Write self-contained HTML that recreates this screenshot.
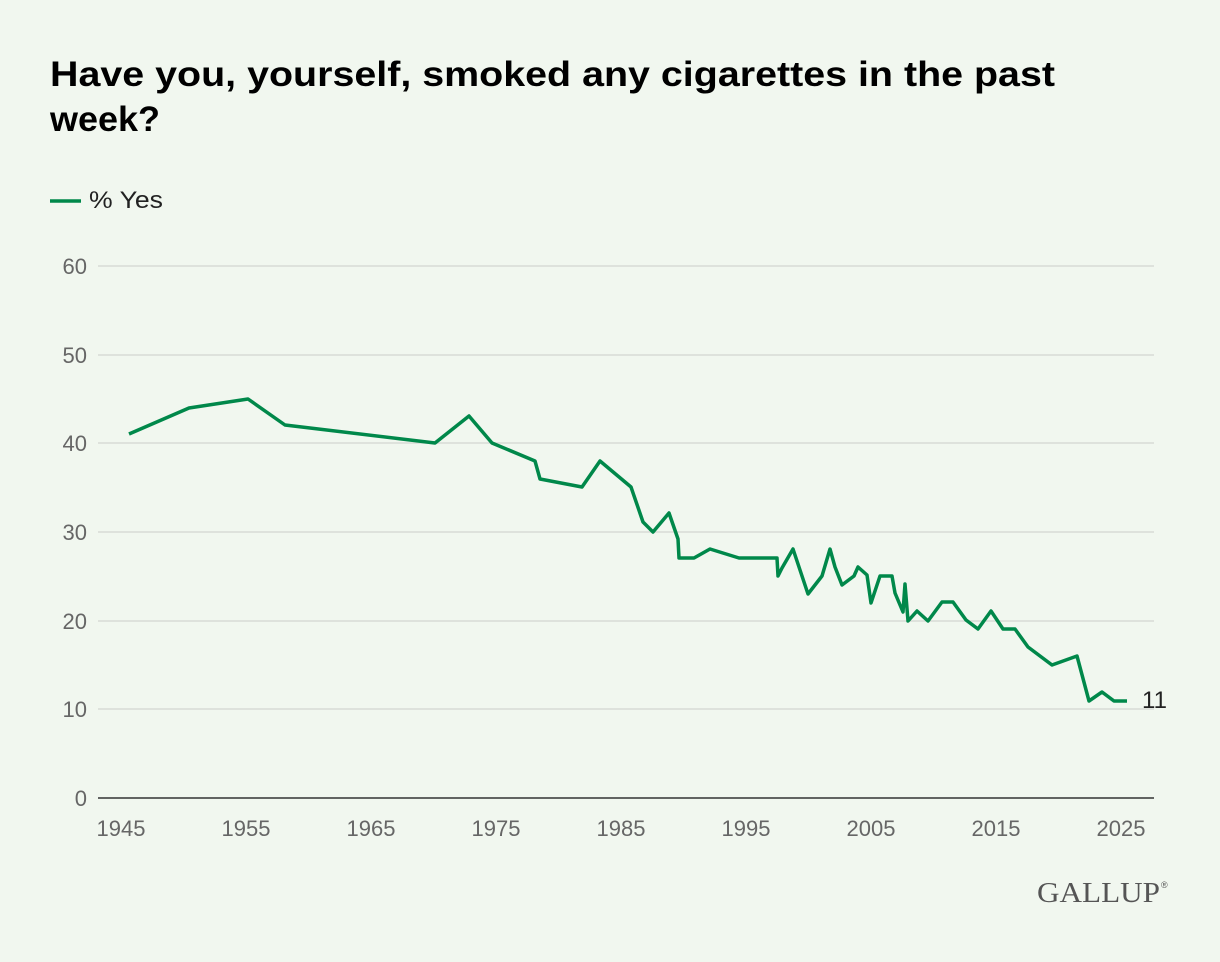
<!DOCTYPE html>
<html><head><meta charset="utf-8"><style>
html,body{margin:0;padding:0;background:#f1f7ef;}
svg{display:block;}
</style></head><body>
<svg width="1220" height="962" xmlns="http://www.w3.org/2000/svg" font-family="Liberation Sans, sans-serif">
<rect width="1220" height="962" fill="#f1f7ef"/>
<text x="50" y="86" font-size="35" font-weight="bold" fill="#000" textLength="1005" lengthAdjust="spacingAndGlyphs">Have you, yourself, smoked any cigarettes in the past</text>
<text x="50" y="131" font-size="35" font-weight="bold" fill="#000" textLength="110" lengthAdjust="spacingAndGlyphs">week?</text>
<line x1="50" y1="201" x2="81" y2="201" stroke="#00884a" stroke-width="3.5"/>
<text x="89" y="208" font-size="24" fill="#222" textLength="74" lengthAdjust="spacingAndGlyphs">% Yes</text>
<g stroke="#d8dcd6" stroke-width="1.5">
<line x1="98" y1="266" x2="1154" y2="266"/>
<line x1="98" y1="355" x2="1154" y2="355"/>
<line x1="98" y1="443" x2="1154" y2="443"/>
<line x1="98" y1="532" x2="1154" y2="532"/>
<line x1="98" y1="621" x2="1154" y2="621"/>
<line x1="98" y1="709" x2="1154" y2="709"/>
</g>
<line x1="98" y1="798" x2="1154" y2="798" stroke="#333" stroke-width="1.5"/>
<g font-size="22" fill="#666" text-anchor="end">
<text x="87" y="274">60</text><text x="87" y="363">50</text><text x="87" y="451">40</text>
<text x="87" y="540">30</text><text x="87" y="629">20</text><text x="87" y="717">10</text><text x="87" y="806">0</text>
</g>
<g font-size="22" fill="#666" text-anchor="middle">
<text x="121" y="836">1945</text><text x="246" y="836">1955</text><text x="371" y="836">1965</text>
<text x="496" y="836">1975</text><text x="621" y="836">1985</text><text x="746" y="836">1995</text>
<text x="871" y="836">2005</text><text x="996" y="836">2015</text><text x="1121" y="836">2025</text>
</g>
<polyline fill="none" stroke="#00884a" stroke-width="3.5" stroke-linejoin="round" points="129,434 189,408 248,399 285,425 435,443 469,416 492,443 535,461 540,479 582,487 600,461 631,487 643,522 653,532 669,513 678,539 679,558 694,558 710,549 739,558 777,558 778,576 782,568 793,549 808,594 822,576 830,549 835,567 842,585 854,576 858,567 867,575 871,603 880,576 892,576 895,593 903,612 905,584 908,621 917,611 928,621 942,602 953,602 966,620 978,629 991,611 1003,629 1015,629 1028,647 1052,665 1077,656 1089,701 1102,692 1114,701 1127,701"/>
<text x="1142" y="708" font-size="24" fill="#222">11</text>
<text x="1160" y="902" font-size="28" fill="#555" text-anchor="end" font-family="Liberation Serif, serif" textLength="123" lengthAdjust="spacingAndGlyphs">GALLUP</text>
<text x="1161" y="888" font-size="9" fill="#555">®</text>
</svg>
</body></html>
